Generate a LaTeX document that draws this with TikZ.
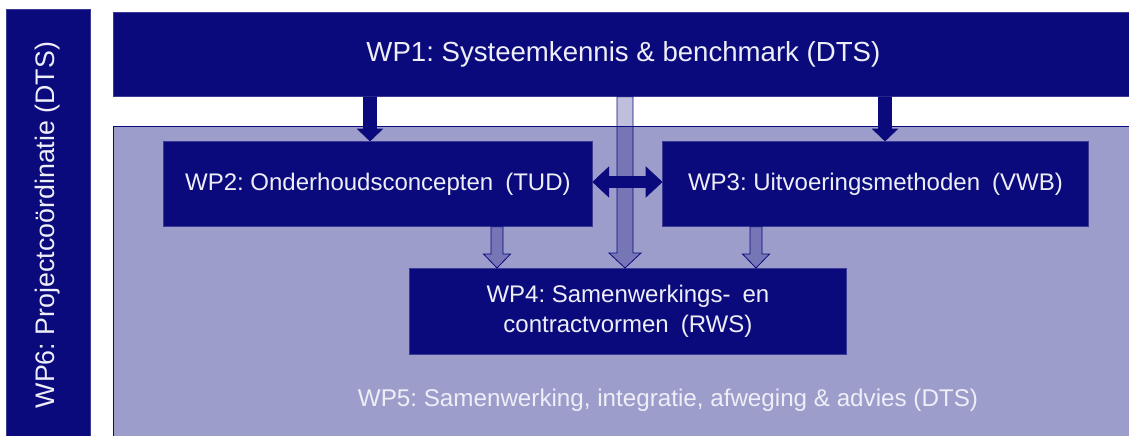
\documentclass[tikz,border=0pt]{standalone}
\usepackage{fontspec}
\setmainfont{Liberation Sans}
\usetikzlibrary{calc}
\frenchspacing
\definecolor{navy}{RGB}{10,10,124}
\definecolor{lav}{RGB}{157,157,203}
\definecolor{txt}{RGB}{238,238,248}
\newcommand\blockarrow[7]{% style, from, to, half shaft, half head, head length
  \path[#1] let \p1=(#2), \p2=(#3) in
    (\x1-#4,\y1) -- (\x1+#4,\y1) -- (\x1+#4,\y2+#6) -- (\x1+#5,\y2+#6) --
    (\x1,\y2) -- (\x1-#5,\y2+#6) -- (\x1-#4,\y2+#6) -- cycle;}
\begin{document}
\begin{tikzpicture}[x=1pt,y=-1pt,
  wpbox/.style={fill=navy,draw=navy!80!white,line width=0.8pt,inner sep=0pt,anchor=north west,
    text=txt,align=center,font=\fontsize{24}{30}\selectfont},
  solidarrow/.style={fill=navy,draw=navy,line width=0.6pt},
  lightarrow/.style={fill=navy,fill opacity=0.26,draw=navy,draw opacity=1,line width=0.8pt},
]
\useasboundingbox (0,0) rectangle (1129,436);
\fill[white] (0,0) rectangle (1129,436);
% WP6
\node[wpbox,minimum width=84pt,minimum height=440pt] (wp6) at (6,9) {};
\node[rotate=90,text=txt,font=\fontsize{26.8}{30}\selectfont] (wp6t) at (48,225) {WP6: Projectco\"ordinatie (DTS)};
% WP5
\node[fill=lav,draw=navy,line width=1.2pt,inner sep=0pt,anchor=north west,minimum width=1030pt,minimum height=320pt] (wp5) at (113,126) {};
\node[text=txt,font=\fontsize{24.2}{30}\selectfont] (wp5t) at (668,400) {WP5: Samenwerking, integratie, afweging \& advies (DTS)};
% WP1
\node[wpbox,minimum width=1020pt,minimum height=84pt,font=\fontsize{27.6}{30}\selectfont] (wp1) at (113,12) {WP1: Systeemkennis \& benchmark (DTS)};
% WP2, WP3, WP4
\node[wpbox,minimum width=429pt,minimum height=85pt] (wp2) at (163,141) {WP2: Onderhoudsconcepten\hspace{0.5em}(TUD)};
\node[wpbox,minimum width=426pt,minimum height=85pt] (wp3) at (662,141) {WP3: Uitvoeringsmethoden\hspace{0.5em}(VWB)};
\node[wpbox,minimum width=437pt,minimum height=86pt] (wp4) at (409,268) {WP4: Samenwerkings-\hspace{0.5em}en\\contractvormen\hspace{0.5em}(RWS)};
% arrow end points
\coordinate (a1s) at (wp1.south -| 370,0);
\coordinate (a1e) at (wp2.north -| 370,0);
\coordinate (a2s) at (wp1.south -| 885,0);
\coordinate (a2e) at (wp3.north -| 885,0);
\coordinate (a3s) at (wp1.south -| 625,0);
\coordinate (a3e) at (wp4.north -| 625,0);
\coordinate (a4s) at (wp2.south -| 497,0);
\coordinate (a4e) at (wp4.north -| 497,0);
\coordinate (a5s) at (wp3.south -| 756,0);
\coordinate (a5e) at (wp4.north -| 756,0);
% arrows
\blockarrow{solidarrow}{a1s}{a1e}{6.5}{12.5}{12}{}
\blockarrow{solidarrow}{a2s}{a2e}{6.5}{12.5}{12}{}
\blockarrow{lightarrow}{a3s}{a3e}{8}{16}{15}{}
\blockarrow{lightarrow}{a4s}{a4e}{6}{13.5}{14}{}
\blockarrow{lightarrow}{a5s}{a5e}{6}{13.5}{14}{}
% double arrow WP2 <-> WP3
\coordinate (dl) at (wp2.east |- 0,182);
\coordinate (dr) at (wp3.west |- 0,182);
\path[solidarrow] let \p1=(dl), \p2=(dr) in
  (\x1,\y1) -- (\x1+16,\y1+15) -- (\x1+16,\y1+5.5) -- (\x2-16,\y1+5.5) -- (\x2-16,\y1+15) --
  (\x2,\y1) -- (\x2-16,\y1-15) -- (\x2-16,\y1-5.5) -- (\x1+16,\y1-5.5) -- (\x1+16,\y1-15) -- cycle;
\end{tikzpicture}
\end{document}
